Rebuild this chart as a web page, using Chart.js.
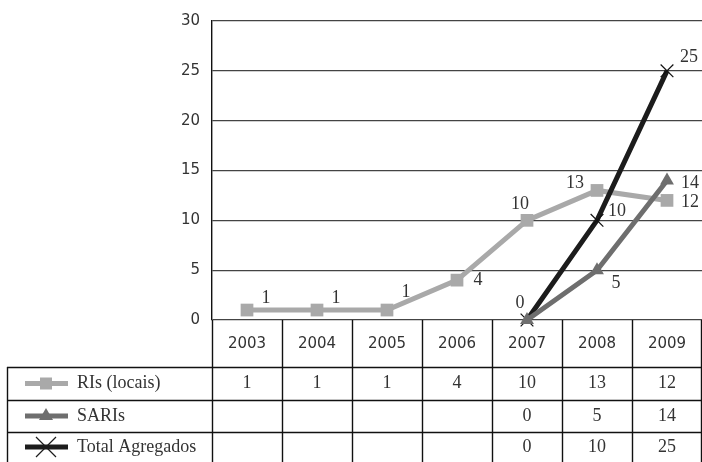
<!DOCTYPE html>
<html>
<head>
<meta charset="utf-8">
<script src="https://cdn.jsdelivr.net/npm/chart.js@4.4.1/dist/chart.umd.min.js"></script>
<style>
  html, body { margin: 0; padding: 0; background: #fff; }
  #wrap { width: 702px; height: 462px; position: relative; }
</style>
</head>
<body>
<div id="wrap"><canvas id="c" width="702" height="462"></canvas></div>
<script>
const years = ['2003', '2004', '2005', '2006', '2007', '2008', '2009'];
const risLocais = [1, 1, 1, 4, 10, 13, 12];
const saris = [null, null, null, null, 0, 5, 14];
const totalAgregados = [null, null, null, null, 0, 10, 25];
const yTicks = [0, 5, 10, 15, 20, 25, 30];

// where each value label sits relative to its point [dx, dy]; null = no label
const risLabelPos = [[19, -12], [19, -12], [19, -18], [21, 0], [-7, -16], [-22, -7], [23, 2]];
const sarisLabelPos = [null, null, null, null, [-7, -17], [19, 13], [23, 3]];
const totalLabelPos = [null, null, null, null, null, [20, -9], [22, -14]];

const serif = '"Liberation Serif", "DejaVu Serif", serif';
const sans = '"DejaVu Sans", sans-serif';
const ink = '#333';

const rows = [
  { label: 'RIs (locais)', data: risLocais, color: '#a9a9a9', marker: 'rect' },
  { label: 'SARIs', data: saris, color: '#6e6e6e', marker: 'triangle' },
  { label: 'Total Agregados', data: totalAgregados, color: '#1c1c1c', marker: 'cross' },
];

const valueLabels = {
  id: 'valueLabels',
  afterDatasetsDraw(chart) {
    const ctx = chart.ctx;
    const positions = [risLabelPos, sarisLabelPos, totalLabelPos];
    ctx.save();
    ctx.font = '18px ' + serif;
    ctx.fillStyle = ink;
    ctx.textAlign = 'center';
    ctx.textBaseline = 'middle';
    chart.data.datasets.forEach((ds, di) => {
      const meta = chart.getDatasetMeta(di);
      meta.data.forEach((pt, i) => {
        const v = ds.data[i];
        const off = positions[di][i];
        if (v === null || !off) return;
        ctx.fillText(String(v), pt.x + off[0], pt.y + off[1]);
      });
    });
    ctx.restore();
  }
};

function marker(ctx, type, x, y, color, big) {
  ctx.fillStyle = color;
  ctx.strokeStyle = color;
  if (type === 'rect') {
    ctx.fillRect(x - 6, y - 6, 12, 12);
  } else if (type === 'triangle') {
    ctx.beginPath();
    ctx.moveTo(x, y - 8);
    ctx.lineTo(x + 7, y + 4);
    ctx.lineTo(x - 7, y + 4);
    ctx.closePath();
    ctx.fill();
  } else {
    const s = big ? 10 : 7;
    ctx.lineWidth = 1.2;
    ctx.beginPath();
    ctx.moveTo(x - s, y - s); ctx.lineTo(x + s, y + s);
    ctx.moveTo(x + s, y - s); ctx.lineTo(x - s, y + s);
    ctx.stroke();
  }
}

const dataTable = {
  id: 'dataTable',
  afterDraw(chart) {
    const ctx = chart.ctx;
    const xs = chart.scales.x;
    const area = chart.chartArea;
    const step = xs.getPixelForValue(1) - xs.getPixelForValue(0);
    const top = area.bottom;
    const rowY = [top, top + 47, top + 80, top + 112, chart.height];
    const leftX = 7;
    ctx.save();
    ctx.strokeStyle = '#111';
    ctx.lineWidth = 1.4;
    ctx.beginPath();
    for (let i = 0; i <= years.length; i++) {
      let x = Math.round(xs.getPixelForValue(0) - step / 2 + i * step);
      if (x > chart.width - 1) x = chart.width - 1;
      ctx.moveTo(x + 0.5, top);
      ctx.lineTo(x + 0.5, chart.height);
    }
    ctx.moveTo(leftX + 0.5, rowY[1]);
    ctx.lineTo(leftX + 0.5, chart.height);
    for (let r = 1; r <= 3; r++) {
      ctx.moveTo(leftX, rowY[r] + 0.5);
      ctx.lineTo(chart.width, rowY[r] + 0.5);
    }
    ctx.stroke();

    ctx.fillStyle = ink;
    ctx.textAlign = 'center';
    ctx.textBaseline = 'middle';
    ctx.font = '15px ' + sans;
    years.forEach((yr, i) => ctx.fillText(yr, xs.getPixelForValue(i), (rowY[0] + rowY[1]) / 2 + 1));

    rows.forEach((row, r) => {
      const cy = (rowY[r + 1] + rowY[r + 2]) / 2;
      ctx.fillStyle = ink;
      ctx.font = '18px ' + serif;
      ctx.textAlign = 'center';
      row.data.forEach((v, i) => {
        if (v !== null) ctx.fillText(String(v), xs.getPixelForValue(i), cy);
      });
      ctx.textAlign = 'left';
      ctx.fillText(row.label, 77, cy);
      ctx.strokeStyle = row.color;
      ctx.lineWidth = 5;
      ctx.beginPath();
      ctx.moveTo(25, cy);
      ctx.lineTo(68, cy);
      ctx.stroke();
      marker(ctx, row.marker, 46, cy, row.color, true);
    });
    ctx.restore();
  }
};

new Chart(document.getElementById('c'), {
  type: 'line',
  data: {
    labels: years,
    datasets: [
      {
        label: rows[0].label, data: risLocais, order: 3,
        borderColor: '#a9a9a9', backgroundColor: '#a9a9a9', borderWidth: 5,
        pointStyle: 'rect', pointRadius: 9, pointBorderWidth: 0,
        pointBackgroundColor: '#a9a9a9', pointBorderColor: '#a9a9a9'
      },
      {
        label: rows[1].label, data: saris, order: 1, clip: false,
        borderColor: '#6e6e6e', backgroundColor: '#6e6e6e', borderWidth: 5,
        pointStyle: 'triangle', pointRadius: 8, pointBorderWidth: 0,
        pointBackgroundColor: '#6e6e6e', pointBorderColor: '#6e6e6e'
      },
      {
        label: rows[2].label, data: totalAgregados, order: 2, clip: false,
        borderColor: '#1c1c1c', backgroundColor: '#1c1c1c', borderWidth: 5,
        pointStyle: 'crossRot', pointRadius: 9, pointBorderWidth: 1.2,
        pointBorderColor: '#111'
      }
    ]
  },
  options: {
    responsive: false,
    animation: false,
    spanGaps: false,
    layout: { autoPadding: false, padding: { left: 0, right: 0, top: 18, bottom: 142 } },
    plugins: { legend: { display: false }, tooltip: { enabled: false } },
    scales: {
      x: { display: false, offset: true },
      y: {
        min: 0, max: 30,
        afterFit(scale) { scale.width = 212; },
        afterBuildTicks(scale) { scale.ticks = yTicks.map(v => ({ value: v })); },
        ticks: { color: ink, font: { family: sans, size: 15 }, padding: 12 },
        grid: { color: '#444', lineWidth: 1.3, drawTicks: false },
        border: { color: '#111', width: 1.4 }
      }
    }
  },
  plugins: [valueLabels, dataTable]
});
</script>
</body>
</html>
